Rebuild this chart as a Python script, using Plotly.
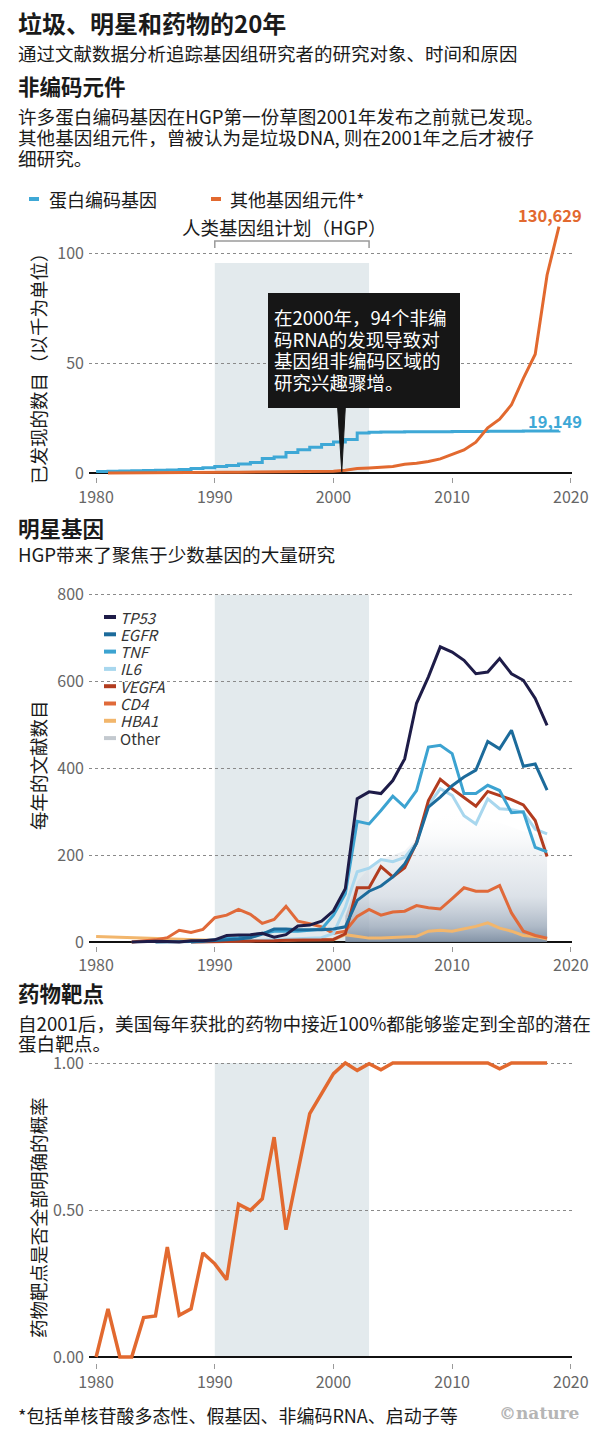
import plotly.graph_objects as go

# ---------------- DATA ----------------
# Chart 1: cumulative discoveries (thousands)
years_protein = list(range(1980, 2020))
protein_coding = [0.7, 0.8, 0.9, 1.0, 1.1, 1.2, 1.4, 1.6, 2.0, 2.4,
                  2.9, 3.4, 4.1, 4.8, 6.6, 7.3, 9.3, 10.6, 11.7, 12.9,
                  14.1, 15.2, 18.2, 18.5, 18.6, 18.6, 18.7, 18.7, 18.8, 18.8,
                  18.9, 18.9, 18.9, 19.0, 19.0, 19.0, 19.1, 19.1, 19.1, 19.149]
years_other = list(range(1981, 2020))
other_elements = [0.0, 0.0, 0.05, 0.1, 0.1, 0.15, 0.2, 0.2, 0.25, 0.3,
                  0.3, 0.35, 0.4, 0.45, 0.5, 0.55, 0.6, 0.65, 0.7, 0.8,
                  1.3, 2.0, 2.3, 2.6, 3.0, 4.0, 4.4, 5.2, 6.4, 8.5,
                  10.5, 14.0, 20.5, 24.5, 31.0, 43.0, 54.0, 90.0, 112.0]

# Chart 2: papers per year for star genes
years_tp53 = list(range(1983, 2019))
tp53 = [0, 1, 2, 1, 0, 3, 3, 5, 15, 16, 17, 20, 11, 17, 37, 39, 48, 72,
        123, 330, 346, 342, 372, 422, 550, 611, 680, 668, 649, 618, 622, 653,
        618, 603, 561, 499]
years_egfr = list(range(1985, 2019))
egfr = [0, 0, 1, 1, 2, 3, 5, 7, 10, 18, 30, 30, 28, 28, 28, 30,
        35, 96, 117, 129, 150, 180, 227, 311, 334, 360, 380, 396, 462, 445,
        488, 405, 410, 350]
years_tnf = list(range(1988, 2019))
tnf = [0, 2, 5, 8, 10, 15, 20, 25, 25, 25, 27, 30, 62,
       111, 278, 272, 303, 336, 311, 349, 449, 453, 434, 342, 342, 361, 349,
       298, 300, 218, 208]
years_il6 = list(range(1988, 2019))
il6 = [0, 1, 2, 2, 3, 3, 4, 5, 6, 7, 8, 10, 20,
       80, 162, 170, 190, 185, 195, 229, 315, 353, 338, 291, 272, 330, 307,
       305, 299, 260, 249]
years_vegfa = list(range(1988, 2019))
vegfa = [0, 0, 1, 1, 2, 2, 3, 3, 4, 4, 5, 5, 6,
         19, 125, 125, 174, 150, 171, 229, 326, 375, 353, 334, 313, 347, 338,
         328, 316, 280, 197]
years_cd4 = list(range(1983, 2019))
cd4 = [0, 2, 5, 10, 27, 22, 29, 56, 62, 75, 64, 43, 52, 82, 48, 42, 35, 20,
       25, 59, 75, 62, 69, 71, 84, 79, 76, 100, 125, 117, 117, 130,
       67, 25, 15, 9]
years_hba1 = list(range(1980, 2019))
hba1 = [13, 12, 11, 10, 10, 9, 8, 6, 5, 5, 3, 3, 3, 3, 4, 4, 4, 5, 5, 5, 5,
        17, 13, 9, 9, 10, 11, 13, 25, 27, 25, 30, 36, 44, 32, 25, 15, 13, 7]
years_others = list(range(2001, 2019))
others_top = [60, 140, 170, 190, 200, 210, 240, 270, 290, 300, 290, 285,
              280, 275, 265, 255, 250, 240]

# Chart 3: probability all drug targets are known
years_drug = list(range(1980, 2019))
drug_prob = [0.0, 0.164, 0.0, 0.0, 0.134, 0.14, 0.374, 0.142, 0.164, 0.354,
             0.317, 0.263, 0.52, 0.499, 0.538, 0.748, 0.433, 0.635, 0.828, 0.896,
             0.964, 1.0, 0.975, 0.998, 0.977, 1.0, 1.0, 1.0, 1.0, 1.0,
             1.0, 1.0, 1.0, 1.0, 0.98, 1.0, 1.0, 1.0, 1.0]

x_ticks = [1980, 1990, 2000, 2010, 2020]
hgp_start, hgp_end = 1990, 2003

# ---------------- STYLE ----------------
W, H = 600, 1439
FONT = "Noto Sans CJK SC, Noto Sans, sans-serif"
BLUE = "#3ea8d6"
ORANGE = "#e2692f"
SHADE = "#e3eaed"
gene_colors = {
    "TP53": "#1e1c48", "EGFR": "#1c6b9b", "TNF": "#3ca3d1", "IL6": "#a8d7ee",
    "VEGFA": "#b23c1f", "CD4": "#e06a3a", "HBA1": "#f2b66c", "Other": "#c3c9cf",
}


def px(x):
    return x / W


def py(y):
    return 1 - y / H


fig = go.Figure()

# chart 1
fig.add_trace(go.Scatter(x=years_protein, y=protein_coding, mode="lines",
                         line=dict(color=BLUE, width=3, shape="hv"),
                         xaxis="x", yaxis="y", showlegend=False))
fig.add_trace(go.Scatter(x=years_other, y=other_elements, mode="lines",
                         line=dict(color=ORANGE, width=3),
                         xaxis="x", yaxis="y", showlegend=False))

# chart 2
fig.add_trace(go.Scatter(x=years_others, y=others_top, mode="lines",
                         line=dict(width=0, color="rgba(0,0,0,0)"),
                         fill="tozeroy",
                         fillgradient=dict(type="vertical", start=0, stop=300,
                                           colorscale=[[0, "rgba(125,142,162,0.95)"],
                                                       [0.12, "rgba(160,173,189,0.85)"],
                                                       [0.35, "rgba(205,213,222,0.7)"],
                                                       [0.7, "rgba(232,236,240,0.6)"],
                                                       [1, "rgba(255,255,255,0)"]]),
                         xaxis="x2", yaxis="y2", showlegend=False))
for name, xs, ys in [("HBA1", years_hba1, hba1), ("CD4", years_cd4, cd4),
                     ("IL6", years_il6, il6), ("VEGFA", years_vegfa, vegfa),
                     ("TNF", years_tnf, tnf), ("EGFR", years_egfr, egfr),
                     ("TP53", years_tp53, tp53)]:
    fig.add_trace(go.Scatter(x=xs, y=ys, mode="lines", name=name,
                             line=dict(color=gene_colors[name], width=3),
                             xaxis="x2", yaxis="y2", showlegend=False))

# chart 3
fig.add_trace(go.Scatter(x=years_drug, y=drug_prob, mode="lines",
                         line=dict(color=ORANGE, width=3.5),
                         xaxis="x3", yaxis="y3", showlegend=False))

xdom = [px(89), px(572)]
xrange_ = [1979.4, 2020.1]
axis_x = dict(domain=xdom, range=xrange_, tickvals=x_ticks, showgrid=False,
              zeroline=False, showline=False, ticks="outside", ticklen=5,
              tickcolor="#9a9a9a", tickwidth=1, automargin=False,
              tickfont=dict(family=FONT, size=16, color="#666"))
axis_y = dict(showgrid=True, gridcolor="#8a8a8a", griddash="dot", gridwidth=1,
              zeroline=True, zerolinecolor="#111", zerolinewidth=2,
              showline=False, ticks="", ticklabelstandoff=4, automargin=False,
              tickfont=dict(family=FONT, size=16, color="#666"))

fig.update_layout(
    template="none",
    width=W, height=H, margin=dict(l=0, r=0, t=0, b=0, pad=0, autoexpand=False),
    paper_bgcolor="white", plot_bgcolor="rgba(0,0,0,0)",
    font=dict(family=FONT),
    showlegend=False,
    xaxis=dict(axis_x, anchor="y"),
    yaxis=dict(axis_y, domain=[py(477.4), py(220)], range=[-2, 115],
               tickvals=[0, 50, 100], anchor="x"),
    xaxis2=dict(axis_x, anchor="y2"),
    yaxis2=dict(axis_y, domain=[py(945.5), py(592.6)], range=[-8, 805],
                tickvals=[0, 200, 400, 600, 800], anchor="x2"),
    xaxis3=dict(axis_x, anchor="y3"),
    yaxis3=dict(axis_y, domain=[py(1362.9), py(1060.1)], range=[-0.02, 1.01],
                tickvals=[0, 0.5, 1.0], ticktext=["0.00", "0.50", "1.00"], anchor="x3"),
)

shapes = []
# HGP shading
shapes.append(dict(type="rect", xref="x", yref="y", x0=hgp_start, x1=hgp_end,
                   y0=0, y1=95.5, fillcolor=SHADE, line_width=0, layer="below"))
shapes.append(dict(type="rect", xref="x2", yref="y2", x0=hgp_start, x1=hgp_end,
                   y0=0, y1=800, fillcolor=SHADE, line_width=0, layer="below"))
shapes.append(dict(type="rect", xref="x3", yref="y3", x0=hgp_start, x1=hgp_end,
                   y0=0, y1=1.0, fillcolor=SHADE, line_width=0, layer="below"))
# HGP bracket
shapes.append(dict(type="path", xref="x", yref="y",
                   path=f"M {hgp_start},102.3 L {hgp_start},105.5 L {hgp_end},105.5 L {hgp_end},102.3",
                   line=dict(color="#9a9a9a", width=1.5)))
# annotation box + pointer
shapes.append(dict(type="rect", xref="paper", yref="paper", x0=px(268), x1=px(460),
                   y0=py(408), y1=py(293), fillcolor="#161616", line_width=0))
shapes.append(dict(type="path", xref="x", yref="y",
                   path="M 2000.35,30 L 2001.0,30 L 2000.7,0.6 Z",
                   fillcolor="#161616", line=dict(color="#161616", width=1)))
# chart 1 legend swatches
for x0, c in [(29, BLUE), (211, ORANGE)]:
    shapes.append(dict(type="rect", xref="paper", yref="paper", x0=px(x0), x1=px(x0 + 10),
                       y0=py(201), y1=py(197), fillcolor=c, line_width=0))
# chart 2 legend swatches
legend2 = ["TP53", "EGFR", "TNF", "IL6", "VEGFA", "CD4", "HBA1", "Other"]
leg_y0, leg_dy = 617, 17.3
for i, g in enumerate(legend2):
    yc = leg_y0 + i * leg_dy
    shapes.append(dict(type="rect", xref="paper", yref="paper", x0=px(104), x1=px(116),
                       y0=py(yc + 2), y1=py(yc - 2), fillcolor=gene_colors[g], line_width=0))
fig.update_layout(shapes=shapes)

ann = []


def text(x, y, s, size=18.5, color="#1a1a1a", weight=None, anchor="left", **kw):
    f = dict(family=FONT, size=size, color=color)
    if weight:
        f["weight"] = weight
    ann.append(dict(xref="paper", yref="paper", x=px(x), y=py(y), text=s,
                    showarrow=False, xanchor=anchor, yanchor="middle", font=f,
                    borderpad=0, **kw))


text(17, 22, "垃圾、明星和药物的20年", size=24, weight=600)
text(17, 53, "通过文献数据分析追踪基因组研究者的研究对象、时间和原因", size=18.5)
text(17, 85, "非编码元件", size=21.5, weight=600)
text(17, 115, "许多蛋白编码基因在HGP第一份草图2001年发布之前就已发现。", size=18.6)
text(17, 137, "其他基因组元件，曾被认为是垃圾DNA, 则在2001年之后才被仔", size=18.6)
text(17, 158, "细研究。", size=18.6)
text(48, 199, "蛋白编码基因", size=18)
text(229, 199, "其他基因组元件*", size=18)
text(284, 227, "人类基因组计划（HGP）", size=18.5, anchor="center")
text(38, 364, "已发现的数目（以千为单位）", size=18.5, anchor="center", textangle=-90)
for i, line in enumerate(["在2000年，94个非编", "码RNA的发现导致对", "基因组非编码区域的", "研究兴趣骤增。"]):
    text(273, 317 + i * 21.7, line, size=18.5, color="white")
text(583, 215, "130,629", size=16.5, color=ORANGE, weight="bold", anchor="right")
text(583, 421, "19,149", size=16.5, color=BLUE, weight="bold", anchor="right")

text(17, 527, "明星基因", size=21.5, weight=600)
text(17, 553, "HGP带来了聚焦于少数基因的大量研究", size=18.6)
text(38, 765, "每年的文献数目", size=18.5, anchor="center", textangle=-90)
for i, g in enumerate(legend2):
    label = g if g == "Other" else f"<i>{g}</i>"
    text(119, leg_y0 + i * leg_dy, label, size=15, color="#333")

text(17, 992, "药物靶点", size=21.5, weight=600)
text(17, 1022, "自2001后，美国每年获批的药物中接近100%都能够鉴定到全部的潜在", size=18.6)
text(17, 1042, "蛋白靶点。", size=18.6)
text(38, 1218, "药物靶点是否全部明确的概率", size=18.5, anchor="center", textangle=-90)

text(17, 1415, "*包括单核苷酸多态性、假基因、非编码RNA、启动子等", size=18)
ann.append(dict(xref="paper", yref="paper", x=px(582), y=py(1413), text="<b>©nature</b>",
                showarrow=False, xanchor="right", yanchor="middle",
                font=dict(family="DejaVu Serif, Liberation Serif, serif", size=17, color="#b5b5b5")))

fig.update_layout(annotations=ann)
fig.write_html("out.html",
               config={"displayModeBar": False, "staticPlot": False},
               post_script="document.body.style.margin='0';"
                           "document.documentElement.style.overflow='hidden';"
                           "document.body.style.overflow='hidden';")
